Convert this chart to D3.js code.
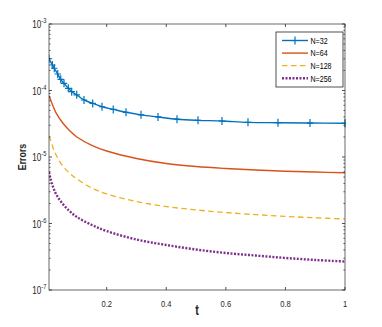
<!DOCTYPE html>
<html>
<head>
<meta charset="utf-8">
<script src="https://cdn.jsdelivr.net/npm/d3@7"></script>
<style>
  html, body { margin: 0; padding: 0; background: #fff; }
  svg { display: block; font-family: 'Liberation Sans', Arial, sans-serif; }
</style>
</head>
<body>
<div id="chart"></div>
<script>
// N=32 (has markers on each sample)
const tN32 = [0.0063, 0.0174, 0.0241, 0.0355, 0.0456, 0.0567, 0.0711, 0.0825, 0.0993, 0.1238, 0.153, 0.1842,
  0.222, 0.2648, 0.3152, 0.3722, 0.436, 0.5065, 0.587, 0.6743, 0.775, 0.8825, 1.0];
const errN32 = [3.0e-4, 2.42e-4, 2.16e-4, 1.77e-4, 1.47e-4, 1.28e-4, 1.08e-4, 9.6e-5, 8.6e-5, 7.2e-5, 6.4e-5, 5.7e-5,
  5.2e-5, 4.7e-5, 4.3e-5, 4.0e-5, 3.7e-5, 3.56e-5, 3.48e-5, 3.32e-5, 3.28e-5, 3.24e-5, 3.21e-5];

// other resolutions, read on a common time grid
const tGrid = [0.0063, 0.01, 0.02, 0.03, 0.05, 0.075, 0.1, 0.15, 0.2, 0.3, 0.4, 0.5, 0.6, 0.7, 0.8, 0.9, 1.0];
const errN64 = [8.26e-5, 7.6e-5, 5.8e-5, 4.6e-5, 3.36e-5, 2.5e-5, 2.0e-5, 1.5e-5, 1.23e-5, 9.5e-6, 7.98e-6,
  7.19e-6, 6.72e-6, 6.38e-6, 6.12e-6, 5.94e-6, 5.8e-6];
const errN128 = [2.07e-5, 1.87e-5, 1.37e-5, 1.07e-5, 7.58e-6, 5.74e-6, 4.67e-6, 3.42e-6, 2.78e-6, 2.14e-6, 1.8e-6,
  1.6e-6, 1.46e-6, 1.36e-6, 1.28e-6, 1.22e-6, 1.17e-6];
const errN256 = [5.94e-6, 5.0e-6, 3.54e-6, 2.78e-6, 2.03e-6, 1.54e-6, 1.25e-6, 9.5e-7, 7.7e-7, 5.74e-7, 4.75e-7,
  4.06e-7, 3.6e-7, 3.3e-7, 3.03e-7, 2.83e-7, 2.68e-7];

const seriesNames = ['N=32', 'N=64', 'N=128', 'N=256'];
const xTicks = [0.2, 0.4, 0.6, 0.8, 1];
const yDecades = [-7, -6, -5, -4, -3];
const xDomain = [0.0063, 1];

const W = 382, H = 327;
const mLeft = 49, mRight = 345, mTop = 24, mBottom = 290;
const axisColor = '#262626';
const sx = 0.77; // reference text is horizontally squeezed

const series = [
  { name: seriesNames[0], t: tN32, v: errN32, color: '#0072BD', width: 1.4, dash: null, marker: true },
  { name: seriesNames[1], t: tGrid, v: errN64, color: '#D95319', width: 1.4, dash: null },
  { name: seriesNames[2], t: tGrid, v: errN128, color: '#EDB120', width: 1.3, dash: '5.5,3.5' },
  { name: seriesNames[3], t: tGrid, v: errN256, color: '#7E2F8E', width: 2.4, dash: '2,1.5' }
];

const x = d3.scaleLinear().domain(xDomain).range([mLeft, mRight]);
const y = d3.scaleLog().domain([1e-7, 1e-3]).range([mBottom, mTop]);

const svg = d3.select('#chart').append('svg').attr('width', W).attr('height', H);

function addText(g, px, py, str, size, opts) {
  opts = opts || {};
  const t = g.append('text')
    .attr('transform', `translate(${px},${py}) rotate(${opts.rotate || 0}) scale(${sx},1)`)
    .attr('font-size', size)
    .attr('fill', axisColor)
    .attr('text-anchor', opts.anchor || 'middle')
    .attr('font-weight', opts.bold ? 'bold' : 'normal');
  if (str !== null) t.text(str);
  return t;
}

// plot area
svg.append('rect')
  .attr('x', mLeft).attr('y', mTop)
  .attr('width', mRight - mLeft).attr('height', mBottom - mTop)
  .attr('fill', '#fff');

svg.append('clipPath').attr('id', 'clip')
  .append('rect').attr('x', mLeft).attr('y', mTop - 4).attr('width', mRight - mLeft + 1).attr('height', mBottom - mTop + 8);

const plot = svg.append('g').attr('clip-path', 'url(#clip)');

const line = d3.line()
  .x(d => x(d[0]))
  .y(d => y(d[1]))
  .curve(d3.curveCatmullRom.alpha(0.5));

series.forEach(s => {
  const pts = s.t.map((t, i) => [t, s.v[i]]);
  plot.append('path')
    .datum(pts)
    .attr('d', line)
    .attr('fill', 'none')
    .attr('stroke', s.color)
    .attr('stroke-width', s.width)
    .attr('stroke-dasharray', s.dash);
  if (s.marker) {
    plot.selectAll('path.mk')
      .data(pts)
      .enter()
      .append('path')
      .attr('class', 'mk')
      .attr('d', d => {
        const cx = x(d[0]), cy = y(d[1]);
        return `M${cx - 3.2},${cy}H${cx + 3.2}M${cx},${cy - 4}V${cy + 4}`;
      })
      .attr('stroke', s.color)
      .attr('stroke-width', 1.2)
      .attr('fill', 'none');
  }
});

// axes box and ticks
const axes = svg.append('g');
axes.append('rect')
  .attr('x', mLeft).attr('y', mTop)
  .attr('width', mRight - mLeft).attr('height', mBottom - mTop)
  .attr('fill', 'none')
  .attr('stroke', axisColor)
  .attr('stroke-opacity', 0.85)
  .attr('stroke-width', 0.8);

const tickLen = 3, minorLen = 1.6;
xTicks.forEach(v => {
  const px = x(v);
  axes.append('line').attr('x1', px).attr('x2', px).attr('y1', mBottom).attr('y2', mBottom - tickLen)
    .attr('stroke', axisColor).attr('stroke-width', 0.8);
  axes.append('line').attr('x1', px).attr('x2', px).attr('y1', mTop).attr('y2', mTop + tickLen)
    .attr('stroke', axisColor).attr('stroke-width', 0.8);
  addText(axes, px, 306.5, d3.format('')(v), 9.8);
});

yDecades.forEach(e => {
  const py = y(Math.pow(10, e));
  [[mLeft, 1], [mRight, -1]].forEach(([ax, dir]) => {
    axes.append('line').attr('x1', ax).attr('x2', ax + dir * tickLen).attr('y1', py).attr('y2', py)
      .attr('stroke', axisColor).attr('stroke-width', 0.8);
  });
  const lab = addText(axes, 46.5, py + 4, null, 10.5, { anchor: 'end' });
  lab.append('tspan').text('10');
  lab.append('tspan').attr('font-size', 7.5).attr('dy', -5).text(String(e));
  if (e < -3) {
    for (let k = 2; k <= 9; k++) {
      const my = y(k * Math.pow(10, e));
      [[mLeft, 1], [mRight, -1]].forEach(([ax, dir]) => {
        axes.append('line').attr('x1', ax).attr('x2', ax + dir * minorLen).attr('y1', my).attr('y2', my)
          .attr('stroke', axisColor).attr('stroke-width', 0.7);
      });
    }
  }
});

// axis labels
addText(axes, (mLeft + mRight) / 2, 315, 't', 14, { bold: true });
addText(axes, 26, (mTop + mBottom) / 2, 'Errors', 11.5, { bold: true, rotate: -90 });

// legend
const lg = svg.append('g');
const lgX = 276, lgY = 32, lgW = 67, lgH = 55;
lg.append('rect')
  .attr('x', lgX).attr('y', lgY).attr('width', lgW).attr('height', lgH)
  .attr('fill', '#fff').attr('stroke', axisColor).attr('stroke-width', 0.8);

series.forEach((s, i) => {
  const ry = 40.5 + i * 12.6;
  lg.append('line')
    .attr('x1', 282).attr('x2', 308).attr('y1', ry).attr('y2', ry)
    .attr('stroke', s.color).attr('stroke-width', s.width)
    .attr('stroke-dasharray', s.dash);
  if (s.marker) {
    lg.append('path')
      .attr('d', `M${295 - 3.2},${ry}H${295 + 3.2}M295,${ry - 4}V${ry + 4}`)
      .attr('stroke', s.color).attr('stroke-width', 1.2);
  }
  addText(lg, 310.5, ry + 3.2, s.name, 9.2, { anchor: 'start' }).attr('fill', '#000');
});
</script>
</body>
</html>
